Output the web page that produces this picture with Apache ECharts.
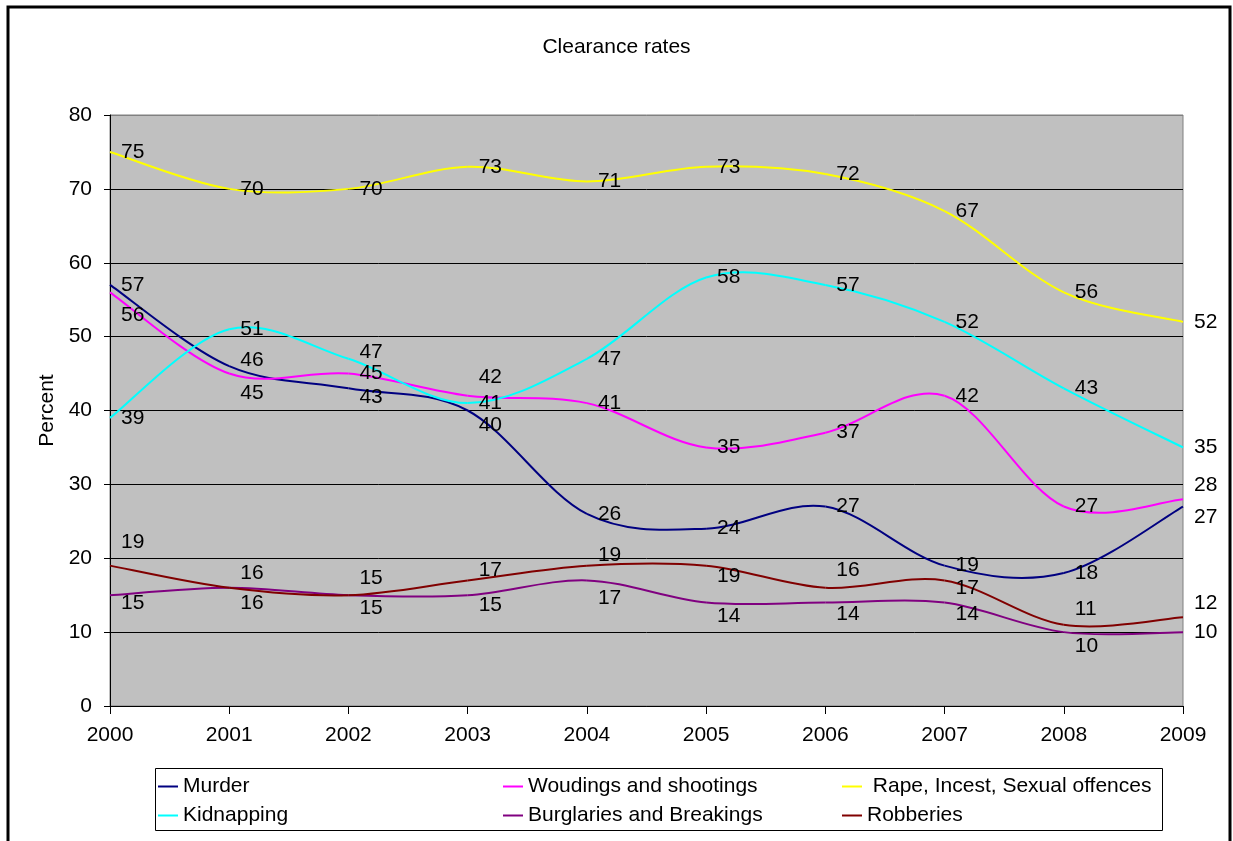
<!DOCTYPE html>
<html>
<head>
<meta charset="utf-8">
<title>Clearance rates</title>
<script src="https://cdn.jsdelivr.net/npm/echarts@6/dist/echarts.min.js"></script>
<style>
  html, body { margin: 0; padding: 0; background: #fff; }
  #chart { width: 1233px; height: 841px; }
</style>
</head>
<body>
<div id="chart"></div>
<script>
// Years on the category axis
const years = ['2000', '2001', '2002', '2003', '2004', '2005', '2006', '2007', '2008', '2009'];

// Clearance rates (percent) per crime type
const murder      = [57, 46, 43, 40, 26, 24, 27, 19, 18, 27];
const woundings   = [56, 45, 45, 42, 41, 35, 37, 42, 27, 28];
const rape        = [75, 70, 70, 73, 71, 73, 72, 67, 56, 52];
const kidnapping  = [39, 51, 47, 41, 47, 58, 57, 52, 43, 35];
const burglaries  = [15, 16, 15, 15, 17, 14, 14, 14, 10, 10];
const robberies   = [19, 16, 15, 17, 19, 19, 16, 17, 11, 12];

// Value axis ticks
const yTicks = [0, 10, 20, 30, 40, 50, 60, 70, 80];

// Vertical nudges (px) for value labels that would otherwise collide
const labelShift = {
  murder:     [0, -6, 9, 15, 0, 0, 0, 0, 0, 11],
  woundings:  [23, 20, 0, -19, 0, 0, 0, 0, 0, -14],
  rape:       [0, 0, 0, 0, 0, 0, 0, 0, 0, 0],
  kidnapping: [0, 0, -7, 0, 0, 0, 0, 0, 0, 0],
  burglaries: [8, 15, 13, 10, 18, 14, 12, 12, 14, 0],
  robberies:  [-23, -15, -17, -10, -10, 11, -18, 8, -16, -14]
};

const FONT = "'Liberation Sans', Arial, sans-serif";

const seriesDefs = [
  { key: 'murder',     name: 'Murder',                          color: '#000080', values: murder },
  { key: 'woundings',  name: 'Woudings and shootings',          color: '#FF00FF', values: woundings },
  { key: 'rape',       name: ' Rape, Incest, Sexual offences',  color: '#FFFF00', values: rape },
  { key: 'kidnapping', name: 'Kidnapping',                      color: '#00FFFF', values: kidnapping },
  { key: 'burglaries', name: 'Burglaries and Breakings',        color: '#800080', values: burglaries },
  { key: 'robberies',  name: 'Robberies',                       color: '#800000', values: robberies }
];

// Each point draws the Catmull-Rom segment to the next point plus its value label.
function makeRenderer(def) {
  const vals = def.values;
  const n = vals.length;
  const shift = labelShift[def.key];
  return function (params, api) {
    const i = params.dataIndex;
    const P = k => {
      const j = Math.max(0, Math.min(n - 1, k));
      return api.coord([j, vals[j]]);
    };
    const p1 = P(i);
    const children = [];
    if (i < n - 1) {
      const p0 = P(i - 1), p2 = P(i + 1), p3 = P(i + 2);
      children.push({
        type: 'bezierCurve',
        z2: 1,
        shape: {
          x1: p1[0], y1: p1[1],
          cpx1: p1[0] + (p2[0] - p0[0]) / 6, cpy1: p1[1] + (p2[1] - p0[1]) / 6,
          cpx2: p2[0] - (p3[0] - p1[0]) / 6, cpy2: p2[1] - (p3[1] - p1[1]) / 6,
          x2: p2[0], y2: p2[1]
        },
        style: { stroke: def.color, lineWidth: 2, fill: null }
      });
    }
    children.push({
      type: 'text',
      z2: 100,
      style: {
        text: String(vals[i]),
        x: p1[0] + 11,
        y: p1[1] + shift[i],
        align: 'left',
        verticalAlign: 'middle',
        fill: '#000',
        fontSize: 21,
        fontFamily: FONT
      }
    });
    return { type: 'group', children: children };
  };
}

const series = seriesDefs.map(d => ({
  name: d.name,
  type: 'custom',
  coordinateSystem: 'cartesian2d',
  clip: false,
  silent: true,
  color: d.color,
  itemStyle: { color: d.color },
  encode: { x: 0, y: 1 },
  renderItem: makeRenderer(d),
  data: d.values.map((v, i) => [i, v])
}));

// One legend per entry so the two-row, three-column block lines up
const legendSlots = [
  { name: 'Murder',                         left: 158, top: 776 },
  { name: 'Kidnapping',                     left: 158, top: 805 },
  { name: 'Woudings and shootings',         left: 503, top: 776 },
  { name: 'Burglaries and Breakings',       left: 503, top: 805 },
  { name: ' Rape, Incest, Sexual offences', left: 842, top: 776 },
  { name: 'Robberies',                      left: 842, top: 805 }
];

const legends = legendSlots.map(s => ({
  data: [s.name],
  left: s.left,
  top: s.top,
  padding: 0,
  icon: 'rect',
  itemWidth: 20,
  itemHeight: 2,
  selectedMode: false,
  textStyle: { color: '#000', fontSize: 21, fontFamily: FONT }
}));

const chart = echarts.init(document.getElementById('chart'), null, { renderer: 'canvas' });

chart.setOption({
  animation: false,
  backgroundColor: '#fff',
  textStyle: { fontFamily: FONT },
  title: {
    text: 'Clearance rates',
    left: 'center',
    top: 37,
    padding: 0,
    textStyle: { color: '#000', fontSize: 21, fontWeight: 'normal', fontFamily: FONT }
  },
  legend: legends,
  grid: {
    left: 110,
    right: 50,
    top: 115,
    bottom: 135,
    show: true,
    backgroundColor: '#C0C0C0',
    borderColor: '#808080',
    borderWidth: 1
  },
  xAxis: {
    type: 'category',
    data: years,
    boundaryGap: false,
    axisLine: { show: true, lineStyle: { color: '#000', width: 1 } },
    axisTick: { show: true, length: 8, lineStyle: { color: '#000' } },
    axisLabel: { color: '#000', fontSize: 21, fontFamily: FONT, margin: 19 },
    splitLine: { show: false }
  },
  yAxis: {
    type: 'value',
    min: yTicks[0],
    max: yTicks[yTicks.length - 1],
    interval: 10,
    name: 'Percent',
    nameLocation: 'middle',
    nameGap: 52,
    nameTextStyle: { color: '#000', fontSize: 21, fontFamily: FONT },
    axisLine: { show: true, lineStyle: { color: '#000', width: 1 } },
    axisTick: { show: true, length: 6, lineStyle: { color: '#000' } },
    axisLabel: { color: '#000', fontSize: 21, fontFamily: FONT, margin: 18 },
    splitLine: {
      show: true,
      lineStyle: {
        color: yTicks.map((t, i) => (i === yTicks.length - 1 ? '#808080' : '#000')),
        width: 1
      }
    }
  },
  graphic: [
    {
      type: 'rect',
      z: -10,
      silent: true,
      shape: { x: 8, y: 7, width: 1222, height: 900 },
      style: { fill: 'none', stroke: '#000', lineWidth: 3 }
    },
    {
      type: 'rect',
      z: 0,
      silent: true,
      shape: { x: 155.5, y: 768.5, width: 1007, height: 62 },
      style: { fill: '#fff', stroke: '#000', lineWidth: 1 }
    }
  ],
  series: series
});
</script>
</body>
</html>
